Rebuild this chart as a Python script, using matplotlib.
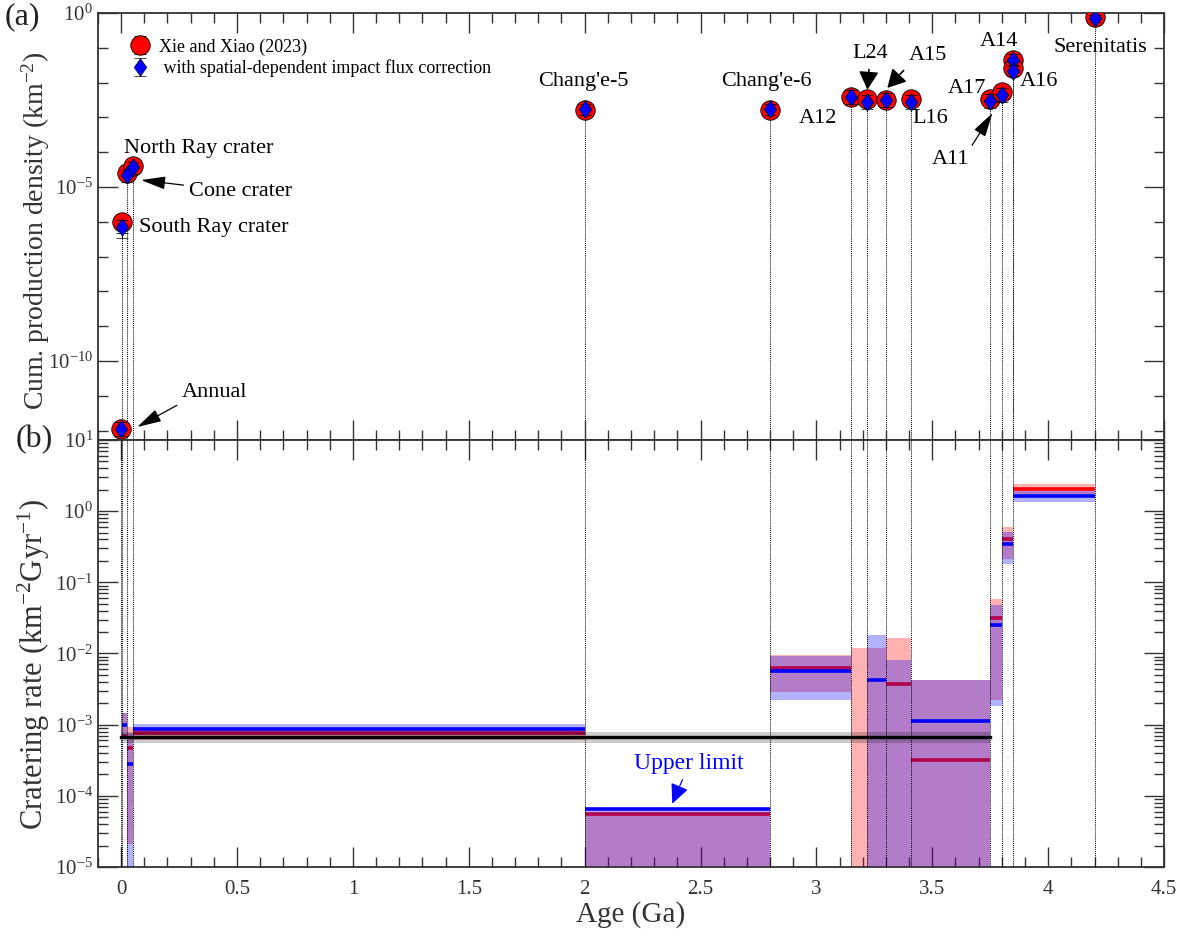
import numpy as np
import matplotlib
matplotlib.use('Agg')
import matplotlib.pyplot as plt
from matplotlib.path import Path
from matplotlib.ticker import FixedLocator, NullFormatter, FixedFormatter

plt.rcParams['font.family'] = ['Liberation Serif', 'DejaVu Serif']
plt.rcParams['mathtext.fontset'] = 'custom'
plt.rcParams['mathtext.rm'] = 'Liberation Serif'
plt.rcParams['mathtext.it'] = 'Liberation Serif:italic'
plt.rcParams['mathtext.bf'] = 'Liberation Serif:bold'
plt.rcParams['axes.unicode_minus'] = False

# ---- panel (a): cumulative production density per sample ----
names = ['Annual', 'South Ray crater', 'Cone crater', 'North Ray crater', "Chang'e-5", "Chang'e-6",
         'A12', 'L24', 'A15', 'L16', 'A11', 'A17', 'A14', 'A16', 'Serenitatis']
ages = [0.0, 0.002, 0.025, 0.053, 2.0, 2.8, 3.15, 3.22, 3.30, 3.41, 3.75, 3.80, 3.85, 3.85, 4.20]
dens_xie = [1.1e-12, 1.0e-6, 2.5e-5, 4.1e-5, 1.6e-3, 1.6e-3, 4.0e-3, 3.5e-3, 3.2e-3, 3.5e-3,
            3.5e-3, 5.5e-3, 4.5e-2, 2.6e-2, 0.79]
dens_corr = [1.1e-12, 7.0e-7, 2.2e-5, 3.8e-5, 1.7e-3, 1.7e-3, 3.8e-3, 2.8e-3, 3.2e-3, 2.75e-3,
             2.95e-3, 4.4e-3, 4.6e-2, 2.2e-2, 0.71]
err_dex_lo = [0.2, 0.32, 0.2, 0.2, 0.15, 0.15, 0.2, 0.2, 0.2, 0.2, 0.2, 0.2, 0.15, 0.15, 0.1]
err_dex_hi = [0.2, 0.2, 0.15, 0.15, 0.15, 0.15, 0.2, 0.2, 0.2, 0.2, 0.2, 0.2, 0.15, 0.15, 0.1]

# ---- panel (b): cratering rate between consecutive samples ----
nan = np.nan
bin_lo = [0.002, 0.025, 0.053, 2.0, 2.8, 3.15, 3.22, 3.30, 3.41, 3.75, 3.80, 3.85]
bin_hi = [0.025, 0.053, 2.0, 2.8, 3.15, 3.22, 3.30, 3.41, 3.75, 3.80, 3.85, 4.20]
rate_xie = [7.0e-4, 4.7e-4, 7.7e-4, 5.6e-5, 6.3e-3, nan, nan, 3.7e-3, 3.2e-4, 0.031, 0.41, 2.02]
rate_xie_lo = [6.5e-4, 2.1e-5, 6.0e-4, 1e-6, 2.9e-3, 1e-6, 1e-6, 1e-6, 1e-6, 2.2e-3, 0.21, 1.72]
rate_xie_hi = [1.45e-3, 9.2e-4, 8.6e-4, 5.6e-5, 9.6e-3, 0.012, 0.012, 0.0164, 4.3e-3, 0.059, 0.60, 2.38]
rate_corr = [1.0e-3, 2.8e-4, 8.6e-4, 6.5e-5, 5.6e-3, nan, 4.3e-3, nan, 1.14e-3, 0.025, 0.35, 1.63]
rate_corr_lo = [6.5e-4, 1e-6, 7.2e-4, 1e-6, 2.2e-3, nan, 1e-6, 1e-6, 1e-6, 1.8e-3, 0.18, 1.34]
rate_corr_hi = [1.45e-3, 7.7e-4, 1.02e-3, 6.5e-5, 9.1e-3, nan, 0.018, 8.2e-3, 4.3e-3, 0.048, 0.51, 1.93]

ref_rate = 6.8e-4
ref_lo, ref_hi = 5.6e-4, 7.9e-4
ref_age = [0.0, 3.75]

xticks = [0, 0.5, 1, 1.5, 2, 2.5, 3, 3.5, 4, 4.5]
xticklabels = ['0', '0.5', '1', '1.5', '2', '2.5', '3', '3.5', '4', '4.5']

diamond = Path([(0, 1), (0.72, 0), (0, -1), (-0.72, 0), (0, 1)],
               [Path.MOVETO, Path.LINETO, Path.LINETO, Path.LINETO, Path.CLOSEPOLY])

fig = plt.figure(figsize=(11.89, 9.36), dpi=100)
ax1 = fig.add_axes([0.0824, 0.530, 0.8966, 0.456])
ax2 = fig.add_axes([0.0824, 0.0737, 0.8966, 0.4563], sharex=ax1)

ya_bot = 10**-12.27

# vertical dotted lines
ages_arr = np.array(ages)
dmax = np.maximum(dens_xie, dens_corr)
ax1.vlines(ages_arr, ya_bot, dmax, colors='k', linestyles=(0, (1, 1)), lw=0.7, zorder=1)
for a in sorted(set(ages)):
    ax2.axvline(a, color='k', ls=(0, (1, 1)), lw=0.7, zorder=5)

def yerr(d):
    d = np.array(d)
    return [d - d / 10**np.array(err_dex_lo), d * 10**np.array(err_dex_hi) - d]

h1 = ax1.errorbar(ages, dens_xie, yerr=yerr(dens_xie), fmt='o', ms=14, mfc='red', mec='k',
                  mew=0.6, ecolor='k', elinewidth=0.8, capsize=4, capthick=0.8, zorder=3,
                  label='Xie and Xiao (2023)')
h2 = ax1.errorbar(ages, dens_corr, yerr=yerr(dens_corr), marker=diamond, ms=12.5, mfc='blue',
                  mec='k', mew=0.5, ls='none', ecolor='k', elinewidth=0.8, capsize=4,
                  capthick=0.8, zorder=4,
                  label=' with spatial-dependent impact flux correction')
ax1.legend(handles=[h1, h2], loc='upper left', bbox_to_anchor=(0.022, 0.958), frameon=False,
           fontsize=13, handletextpad=0.4, labelspacing=0.2, handlelength=1.3, borderaxespad=0)

ax1.set_yscale('log')
ax1.set_ylim(ya_bot, 1.0)
ax1.set_xlim(-0.1, 4.5)
ax1.yaxis.set_major_locator(FixedLocator([1e-10, 1e-5, 1e0]))
ax1.yaxis.set_minor_locator(FixedLocator(10.0**np.arange(-12, 1)))
ax1.yaxis.set_minor_formatter(NullFormatter())
ax1.tick_params(axis='x', labelbottom=False)

# annotations (a)
tf = 16
thin = dict(arrowstyle='-|>,head_length=0.75,head_width=0.2', color='k', lw=0.9,
            mutation_scale=20, shrinkA=2, shrinkB=0)
bold = dict(arrowstyle='-|>,head_length=0.55,head_width=0.3', color='k', lw=1.2,
            mutation_scale=20, shrinkA=3, shrinkB=0)
ax1.text(0.013, 10**-3.88, 'North Ray crater', fontsize=tf, va='center', ha='left')
ax1.annotate('Cone crater', xy=(0.086, 10**-4.80), xytext=(0.293, 10**-5.14), fontsize=tf,
             va='center', ha='left', arrowprops=thin)
ax1.text(0.078, 10**-6.15, 'South Ray crater', fontsize=tf, va='center', ha='left')
ax1.annotate('Annual', xy=(0.069, 10**-11.9), xytext=(0.263, 10**-10.92), fontsize=tf,
             va='center', ha='left', arrowprops=dict(thin, relpos=(0.0, 0.0)))
ax1.text(1.994, 10**-1.98, "Chang'e-5", fontsize=tf, va='center', ha='center')
ax1.text(2.784, 10**-1.98, "Chang'e-6", fontsize=tf, va='center', ha='center')
ax1.text(2.926, 10**-3.02, 'A12', fontsize=tf, va='center', ha='left')
ax1.annotate('L24', xy=(3.22, 10**-2.2), xytext=(3.155, 10**-1.15), fontsize=tf,
             va='center', ha='left', arrowprops=bold)
ax1.annotate('A15', xy=(3.306, 10**-2.15), xytext=(3.40, 10**-1.21), fontsize=tf,
             va='center', ha='left', arrowprops=dict(bold, relpos=(0.0, 0.0)))
ax1.text(3.414, 10**-3.02, 'L16', fontsize=tf, va='center', ha='left')
ax1.text(3.565, 10**-2.155, 'A17', fontsize=tf, va='center', ha='left')
ax1.annotate('A11', xy=(3.76, 10**-2.87), xytext=(3.496, 10**-4.22), fontsize=tf,
             va='center', ha='left', arrowprops=dict(thin, relpos=(1.0, 1.0)))
ax1.text(3.703, 10**-0.83, 'A14', fontsize=tf, va='center', ha='left')
ax1.text(3.876, 10**-1.98, 'A16', fontsize=tf, va='center', ha='left')
ax1.text(4.022, 10**-1.0, 'Serenitatis', fontsize=tf, va='center', ha='left')

# ---- panel (b) ----
blo = np.array(bin_lo)
bw = np.array(bin_hi) - blo
for x0, w, lo, hi in zip(blo, bw, rate_xie_lo, rate_xie_hi):
    if not np.isnan(lo):
        ax2.bar(x0, hi - lo, width=w, bottom=lo, align='edge', color='red', alpha=0.3, lw=0, zorder=2)
for x0, w, r in zip(blo, bw, rate_xie):
    if not np.isnan(r):
        ax2.hlines(r, x0, x0 + w, colors='red', lw=2.6, zorder=2.1)
for x0, w, lo, hi in zip(blo, bw, rate_corr_lo, rate_corr_hi):
    if not np.isnan(lo):
        ax2.bar(x0, hi - lo, width=w, bottom=lo, align='edge', color='blue', alpha=0.3, lw=0, zorder=2.2)
for x0, w, r in zip(blo, bw, rate_corr):
    if not np.isnan(r):
        ax2.hlines(r, x0, x0 + w, colors='blue', lw=2.6, zorder=2.3)

ax2.fill_between(ref_age, ref_lo, ref_hi, color='k', alpha=0.2, lw=0, zorder=2.4)
ax2.plot(ref_age, [ref_rate, ref_rate], color='k', lw=2.4, zorder=2.5)

ax2.annotate('Upper limit', xy=(2.378, 10**-4.11), xytext=(2.451, 10**-3.55), fontsize=17,
             color='blue', va='center', ha='center',
             arrowprops=dict(arrowstyle='-|>,head_length=0.6,head_width=0.28', color='blue', lw=0.9,
                             mutation_scale=20, shrinkA=2, shrinkB=0))

ax2.set_yscale('log')
ax2.set_ylim(1e-5, 10)
ax2.yaxis.set_major_locator(FixedLocator(10.0**np.arange(-5, 2)))
ax2.yaxis.set_minor_locator(FixedLocator(np.outer(10.0**np.arange(-5, 1), np.arange(2, 10)).ravel()))
ax2.yaxis.set_minor_formatter(NullFormatter())
ax2.set_xlim(-0.1, 4.5)
ax2.xaxis.set_major_locator(FixedLocator(xticks))
ax2.xaxis.set_major_formatter(FixedFormatter(xticklabels))
ax2.xaxis.set_minor_locator(FixedLocator(np.arange(-0.1, 4.51, 0.1)))

for ax in (ax1, ax2):
    ax.tick_params(which='both', direction='in', top=True, right=True, colors='#333333',
                   labelcolor='#333333')
    ax.tick_params(which='major', length=14.5, width=1.0, labelsize=15)
    ax.tick_params(which='minor', length=7.5, width=1.0)
    ax.tick_params(axis='x', which='major', pad=9)
    for s in ax.spines.values():
        s.set_linewidth(1.3)
        s.set_color('#333333')

ax1.set_ylabel('Cum. production density (km$^{-2}$)', fontsize=20, color='#333333')
ax2.set_ylabel('Cratering rate (km$^{-2}$Gyr$^{-1}$)', fontsize=22, color='#333333')
ax1.yaxis.set_label_coords(-0.043, 0.49)
ax2.yaxis.set_label_coords(-0.043, 0.475)
ax2.set_xlabel('Age (Ga)', fontsize=21, color='#333333', labelpad=2)

fig.text(0.004, 0.998, '(a)', fontsize=23, va='top', ha='left', color='#222222')
fig.text(0.013, 0.530, '(b)', fontsize=23, va='center', ha='left', color='#222222')

fig.savefig('out.png', dpi=100)
